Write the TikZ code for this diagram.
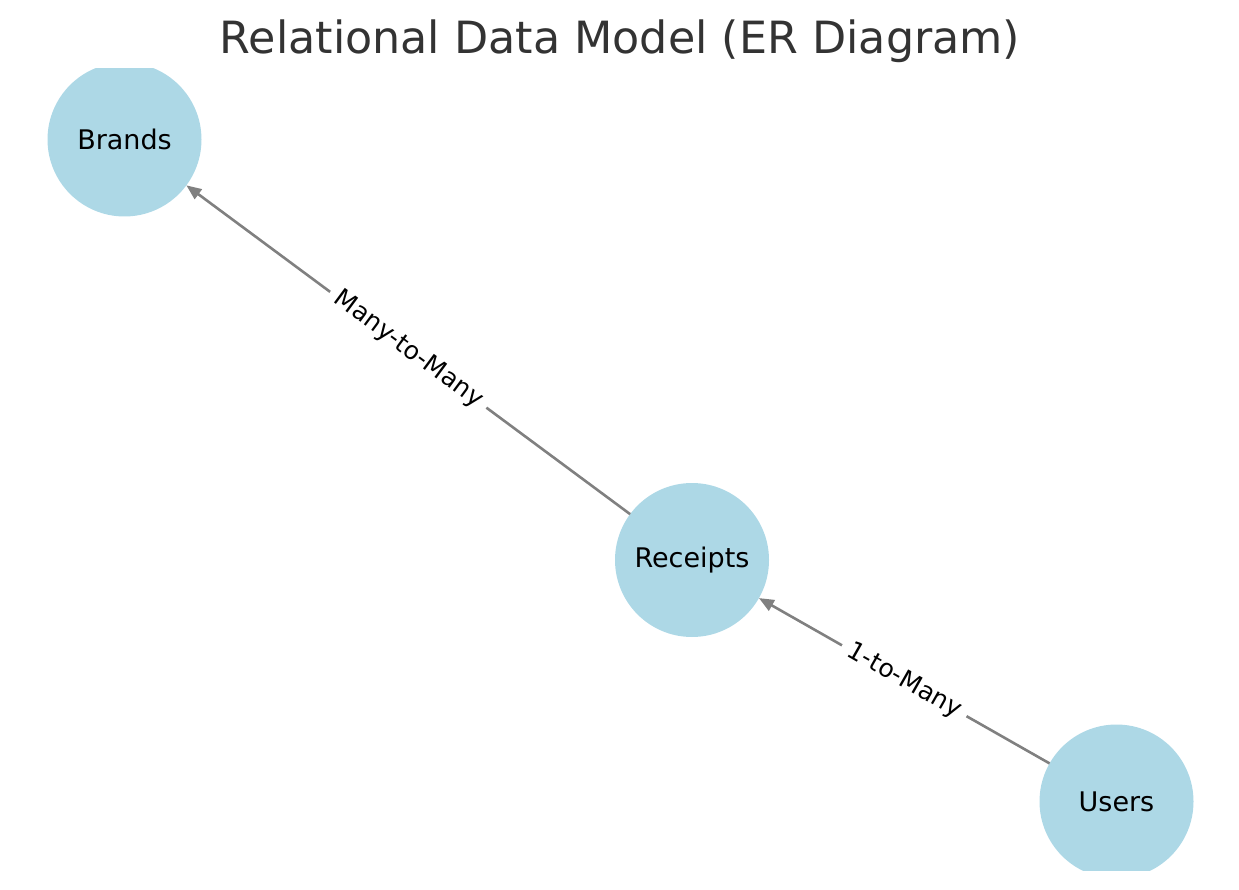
\documentclass[tikz,border=0pt]{standalone}
\usepackage{fontspec}
\setmainfont{DejaVu Sans}
\usetikzlibrary{arrows.meta}
\definecolor{nodeblue}{HTML}{ADD8E6}
\definecolor{edgegray}{HTML}{808080}
\definecolor{titlegray}{HTML}{333333}
\begin{document}
\begin{tikzpicture}[x=1pt,y=-1pt,
  entity/.style={circle, fill=nodeblue, minimum size=154pt, inner sep=0pt, outer sep=0pt, font=\fontsize{27}{31}\selectfont, text=black},
  rel/.style={draw=edgegray, line width=2.6pt, -{Triangle[length=15pt,width=12pt]}},
  rellabel/.style={fill=white, sloped, font=\fontsize{25}{29}\selectfont, inner xsep=8pt, inner ysep=6pt, text=black}]
\useasboundingbox (0,0) rectangle (1239,890);
\node[font=\fontsize{44.4}{50}\selectfont, text=titlegray, anchor=base] (title) at (620,54) {Relational Data Model (ER Diagram)};
\begin{scope}
\clip (0,69) rectangle (1239,870);
\node[entity] (brands) at (124.5,139.5) {Brands};
\node[entity] (receipts) at (692,560) {Receipts};
\node[entity] (users) at (1116.5,801.5) {Users};
\end{scope}
\draw[rel] (receipts) -- node[rellabel] {Many-to-Many} (brands);
\draw[rel] (users) -- node[rellabel] {1-to-Many} (receipts);
\end{tikzpicture}
\end{document}
